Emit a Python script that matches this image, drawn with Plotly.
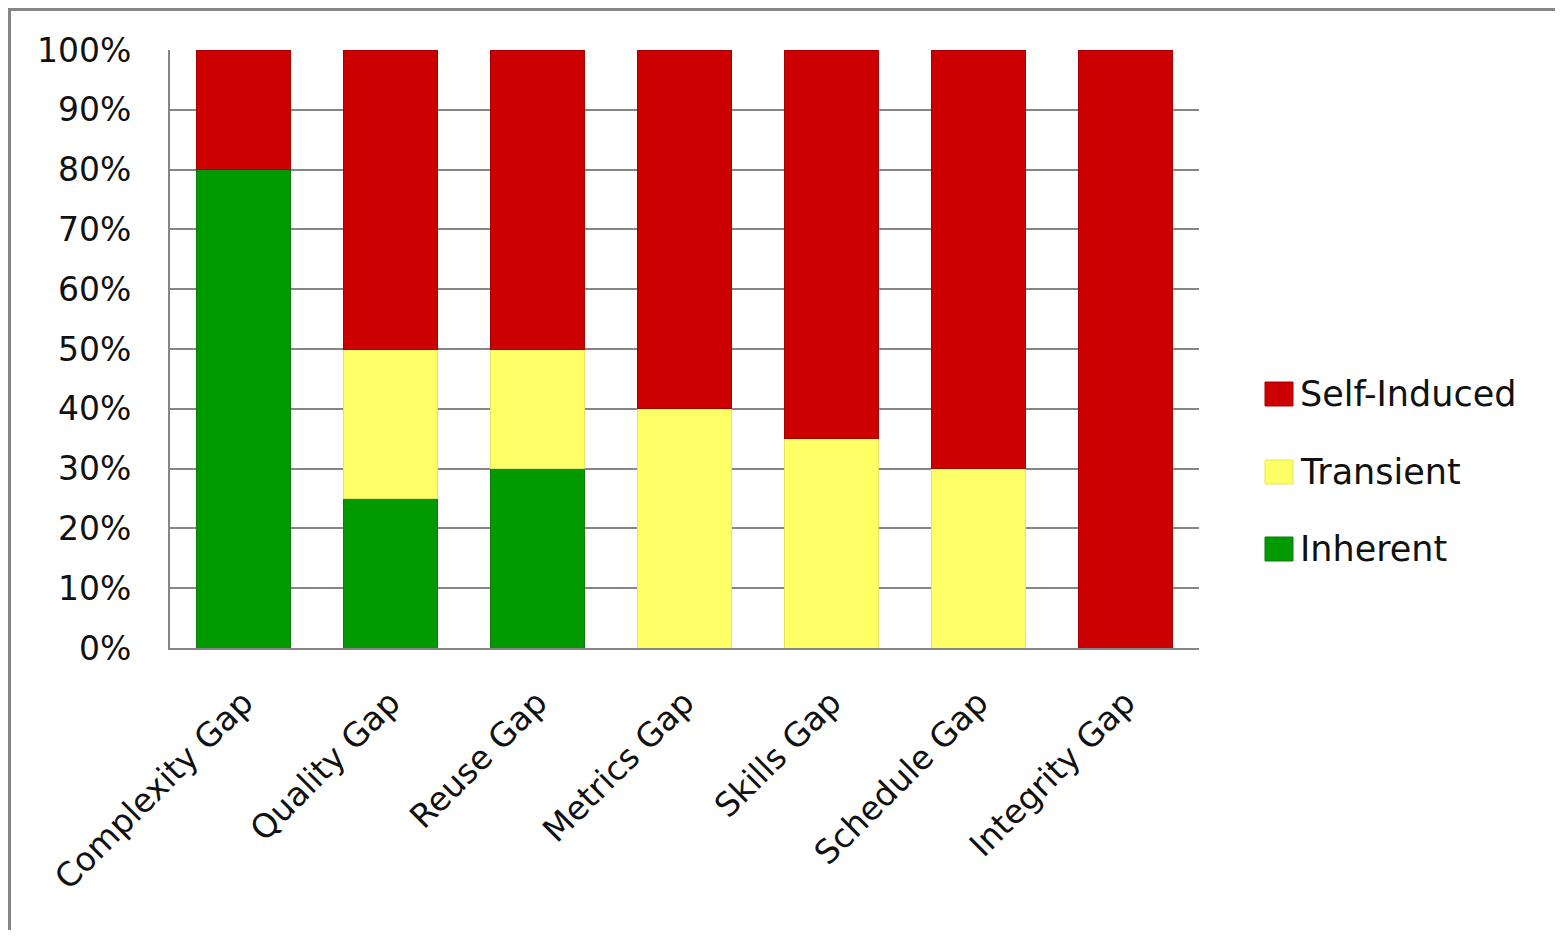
import plotly.graph_objects as go

categories = ["Complexity Gap", "Quality Gap", "Reuse Gap", "Metrics Gap",
              "Skills Gap", "Schedule Gap", "Integrity Gap"]
inherent = [80, 25, 30, 0, 0, 0, 0]
transient = [0, 25, 20, 40, 35, 30, 0]
self_induced = [20, 50, 50, 60, 65, 70, 100]
series_names = ["Inherent", "Transient", "Self-Induced"]
series_colors = ["#009900", "#FFFF66", "#CC0000"]
series_lines = ["#0b7d0b", "#e6e65c", "#a80000"]
y_ticks = [0, 10, 20, 30, 40, 50, 60, 70, 80, 90, 100]
y_tick_labels = [f"{v}%" for v in y_ticks]

OFF = 8  # page body margin
W, H = 1563 - 2 * OFF, 938 - 2 * OFF
L, R, T, B = 170 - OFF, 1199 - OFF, 50 - OFF, 648 - OFF

fig = go.Figure()
for name, vals, col, lc in zip(series_names, [inherent, transient, self_induced],
                               series_colors, series_lines):
    fig.add_trace(go.Bar(x=categories, y=vals, name=name,
                         marker=dict(color=col, line=dict(color=lc, width=1)),
                         width=0.64, showlegend=False))

FONT = "DejaVu Sans"
grid = "#868686"

def px_x(p):
    return (p - OFF - L) / (R - L)

def px_y(p):
    return (B - (p - OFF)) / (B - T)

shapes = [
    # outer frame
    dict(type="rect", xref="paper", yref="paper",
         x0=px_x(9.5), x1=px_x(1640), y0=px_y(1000), y1=px_y(9.5),
         line=dict(color=grid, width=3), fillcolor="rgba(0,0,0,0)", layer="below"),
]
annotations = []
# custom legend (top to bottom: Self-Induced, Transient, Inherent)
legend_rows = [394, 472, 549]
for row_y, name, col, lc in zip(legend_rows, series_names[::-1], series_colors[::-1], series_lines[::-1]):
    shapes.append(dict(type="rect", xref="paper", yref="paper",
                       x0=px_x(1265), x1=px_x(1293), y0=px_y(row_y + 12), y1=px_y(row_y - 12),
                       fillcolor=col, line=dict(color=lc, width=1)))
    annotations.append(dict(xref="paper", yref="paper", x=px_x(1298), y=px_y(row_y),
                            text=name, showarrow=False, xanchor="left", yanchor="middle",
                            font=dict(family=FONT, size=35, color="#111111")))

fig.update_layout(
    width=W, height=H,
    margin=dict(l=L, r=W - R, t=T, b=H - B),
    barmode="stack", bargap=0.36,
    paper_bgcolor="white", plot_bgcolor="white",
    font=dict(family=FONT, size=33, color="#111111"),
    shapes=shapes, annotations=annotations,
    xaxis=dict(showgrid=False, showline=True, linecolor=grid, linewidth=2,
               tickangle=-45, ticks="", ticklabelstandoff=20,
               tickfont=dict(family=FONT, size=33, color="#111111")),
    yaxis=dict(range=[0, 100], tickvals=y_ticks, ticktext=y_tick_labels,
               showgrid=True, gridcolor=grid, gridwidth=2,
               showline=True, linecolor=grid, linewidth=2, ticks="",
               ticklabelstandoff=30, zeroline=False,
               tickfont=dict(family=FONT, size=33, color="#111111")),
)

fig.write_html("out.html")
